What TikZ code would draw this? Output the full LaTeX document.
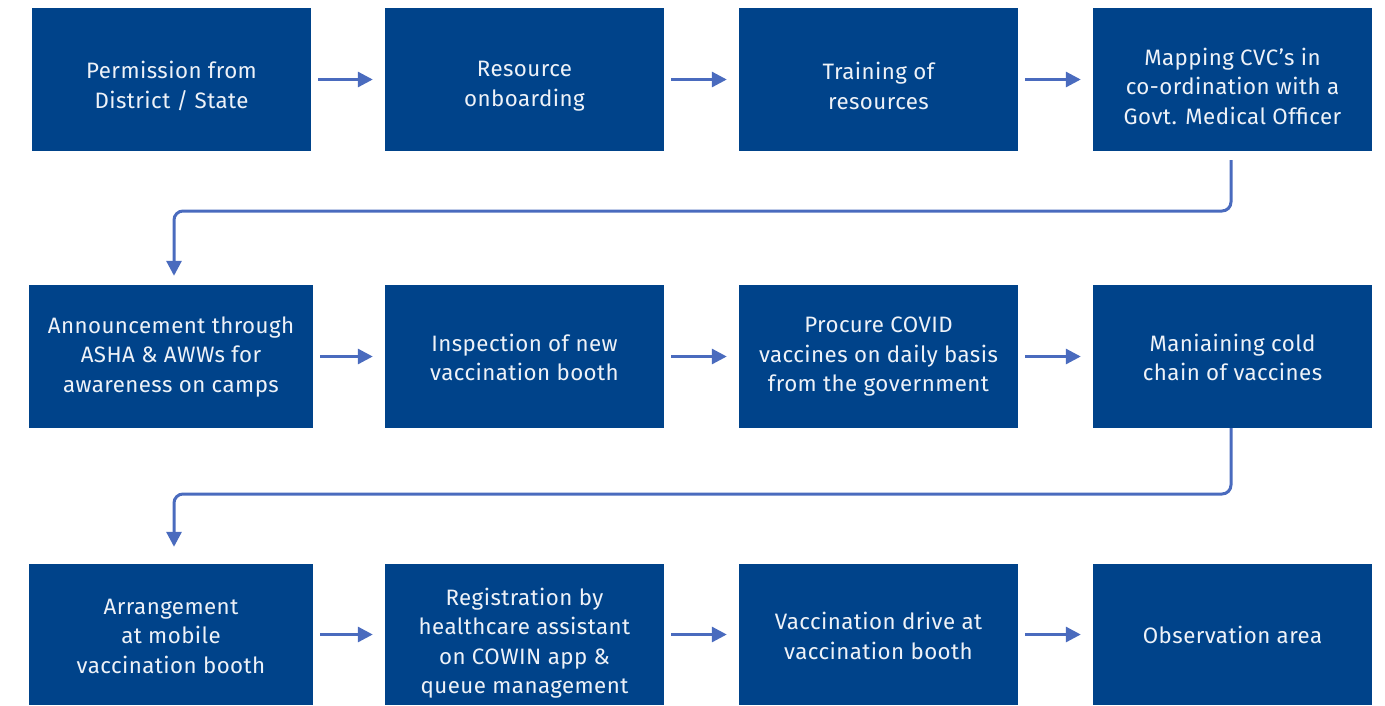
\documentclass[tikz,border=0pt]{standalone}
\usepackage{fontspec}
\setmainfont{Fira Sans}[LetterSpace=2]
\usetikzlibrary{arrows.meta,calc}
\definecolor{boxblue}{HTML}{00438A}
\definecolor{arrowblue}{HTML}{4A6BBE}
\definecolor{txtwhite}{HTML}{EEF2F8}
\tikzset{
  box/.style={draw=none,fill=boxblue,rectangle,inner sep=0pt,minimum height=143pt,minimum width=279pt},
  txt/.style={text=txtwhite,align=center,font=\fontsize{22.3}{29.5}\selectfont,inner sep=0pt},
  conn/.style={draw=arrowblue,line width=3pt,-{Triangle[length=15pt,width=15pt]}},
  elbow/.style={conn,rounded corners=9pt}
}
\begin{document}
\begin{tikzpicture}[x=1pt,y=-1pt]
\useasboundingbox (0,0) rectangle (1385,705);
% row 1
\node[box,minimum width=279pt] (b1) at (171.5,79.5) {};
\node[box] (b2) at (524.5,79.5) {};
\node[box] (b3) at (878.5,79.5) {};
\node[box] (b4) at (1232.5,79.5) {};
% row 2
\node[box,minimum width=284pt] (b5) at (171,356.5) {};
\node[box] (b6) at (524.5,356.5) {};
\node[box] (b7) at (878.5,356.5) {};
\node[box] (b8) at (1232.5,356.5) {};
% row 3
\node[box,minimum width=284pt,minimum height=141pt] (b9) at (171,634.5) {};
\node[box,minimum height=141pt] (b10) at (524.5,634.5) {};
\node[box,minimum height=141pt] (b11) at (878.5,634.5) {};
\node[box,minimum height=141pt] (b12) at (1232.5,634.5) {};
% texts
\node[txt] (t1) at (171.5,86) {Permission from\\District / State};
\node[txt] (t2) at (524.5,86) {Resource\\onboarding};
\node[txt] (t3) at (878.5,86) {Training of\\resources};
\node[txt] (t4) at (1232.5,86) {Mapping CVC's in\\co-ordination with a\\Govt. Medical Officer};
\node[txt] (t5) at (171,357) {Announcement through\\ASHA \& AWWs for\\awareness on camps};
\node[txt] (t6) at (524.5,357.5) {Inspection of new\\vaccination booth};
\node[txt] (t7) at (878.5,357) {Procure COVID\\vaccines on daily basis\\from the government};
\node[txt] (t8) at (1232.5,357.5) {Maniaining cold\\chain of vaccines};
\node[txt] (t9) at (171,636) {Arrangement\\at mobile\\vaccination booth};
\node[txt] (t10) at (524.5,643) {Registration by\\healthcare assistant\\on COWIN app \&\\queue management};
\node[txt] (t11) at (878.5,636) {Vaccination drive at\\vaccination booth};
\node[txt] (t12) at (1232.5,635) {Observation area};
% horizontal arrows
\foreach \a/\b in {b1/b2,b2/b3,b3/b4,b5/b6,b6/b7,b7/b8,b9/b10,b10/b11,b11/b12}{
  \draw[conn] ($(\a.east)+(7,0)$) -- ($(\b.west)+(-12,0)$);
}
% elbow connectors
\coordinate (c1) at (1231,211);
\coordinate (c2) at (174,211);
\draw[elbow] ($(b4.south)+(-1.5,9)$) -- (c1) -- (c2) -- ($(b5.north)+(3,-9)$);
\coordinate (c3) at (1231,494);
\coordinate (c4) at (174,494);
\draw[elbow] (b8.south -| c3) -- (c3) -- (c4) -- ($(b9.north)+(3,-17)$);
\end{tikzpicture}
\end{document}
